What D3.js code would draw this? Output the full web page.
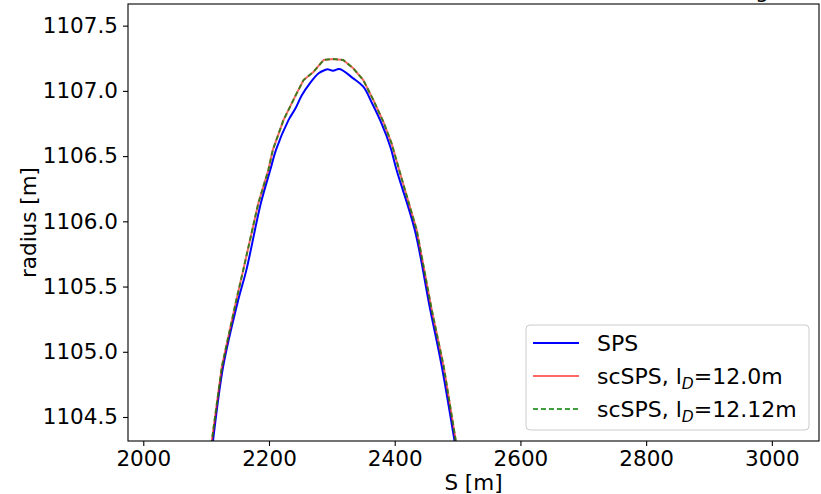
<!DOCTYPE html>
<html>
<head>
<meta charset="utf-8">
<script src="https://cdn.jsdelivr.net/npm/d3@7"></script>
<style>
  body { margin: 0; background: #fff; }
  #graph { width: 821px; height: 494px; }
  text { font-family: "DejaVu Sans", sans-serif; fill: #000; }
  .axis text { font-size: 21.5px; }
  .axis path, .axis line { stroke: #000; stroke-width: 1.1; }
</style>
</head>
<body>
<div id="graph"></div>
<script>
// S positions [m] and radius [m]
var sSPS = [2100, 2111, 2127, 2151, 2164, 2187, 2202, 2211, 2231, 2242, 2252, 2265, 2279,
  2289, 2293, 2302, 2312, 2334, 2350, 2364, 2379, 2393, 2403, 2432, 2456, 2475, 2495, 2511];
var radiusSPS = [1103.86, 1104.32, 1104.885, 1105.396, 1105.626, 1106.138, 1106.393, 1106.546,
  1106.776, 1106.865, 1106.965, 1107.058, 1107.135, 1107.160, 1107.166, 1107.154, 1107.168,
  1107.096, 1107.032, 1106.905, 1106.751, 1106.572, 1106.393, 1105.933, 1105.335, 1104.885,
  1104.322, 1103.86];

var sScSPS = [2097, 2109, 2125, 2148, 2159, 2183, 2199, 2206, 2223, 2244, 2255, 2271, 2287,
  2302, 2318, 2334, 2350, 2366, 2382, 2395, 2411, 2435, 2459, 2478, 2497, 2513];
var radiusSc120 = [1103.86, 1104.315, 1104.885, 1105.396, 1105.626, 1106.138, 1106.393,
  1106.546, 1106.776, 1106.981, 1107.083, 1107.147, 1107.237, 1107.244, 1107.237, 1107.173,
  1107.083, 1106.930, 1106.763, 1106.598, 1106.329, 1105.933, 1105.319, 1104.885, 1104.322,
  1103.86];
var radiusSc1212 = [1103.86, 1104.315, 1104.885, 1105.396, 1105.626, 1106.138, 1106.393,
  1106.546, 1106.776, 1106.981, 1107.083, 1107.147, 1107.237, 1107.244, 1107.237, 1107.173,
  1107.083, 1106.930, 1106.763, 1106.598, 1106.329, 1105.933, 1105.319, 1104.885, 1104.322,
  1103.86];

var xTicks = [2000, 2200, 2400, 2600, 2800, 3000];
var yTicks = [1104.5, 1105.0, 1105.5, 1106.0, 1106.5, 1107.0, 1107.5];
var legendNames = ["SPS", "scSPS, l", "scSPS, l"];
var legendSuffix = ["", "=12.0m", "=12.12m"];
var titleText = "g";

var width = 821, height = 494;
var margin = { top: 4, left: 128, bottom: 53, right: 2 };
var chartWidth = width - margin.left - margin.right;
var chartHeight = height - margin.top - margin.bottom;

var svg = d3.select("#graph").append("svg").attr("width", width).attr("height", height);
svg.append("rect").attr("width", width).attr("height", height).attr("fill", "#fff");

var axisLayer = svg.append("g").classed("axisLayer", true);
var chartLayer = svg.append("g").classed("chartLayer", true)
  .attr("transform", "translate(" + [margin.left, margin.top] + ")");

var xScale = d3.scaleLinear().domain([1975.7, 3075]).range([0, chartWidth]);
var yScale = d3.scaleLinear().domain([1104.316, 1107.666]).range([chartHeight, 0]);

var series = [
  { name: "SPS", s: sSPS, r: radiusSPS, color: "#0000ff", dash: null, opacity: 1, width: 2, curve: d3.curveCatmullRom },
  { name: "sc120", s: sScSPS, r: radiusSc120, color: "#ff0000", dash: null, opacity: 0.6, width: 2, curve: d3.curveLinear },
  { name: "sc1212", s: sScSPS, r: radiusSc1212, color: "#008000", dash: "5,3", opacity: 0.75, width: 2, curve: d3.curveLinear }
];

renderAxis();
renderChart();
renderLegend();

function renderAxis() {
  axisLayer.append("g")
    .attr("class", "axis x")
    .attr("transform", "translate(" + [margin.left, margin.top + chartHeight] + ")")
    .call(d3.axisBottom(xScale).tickValues(xTicks).tickFormat(d3.format("d")).tickSize(5).tickPadding(5))
    .call(function(g) { g.select(".domain").remove(); });

  axisLayer.append("g")
    .attr("class", "axis y")
    .attr("transform", "translate(" + [margin.left, margin.top] + ")")
    .call(d3.axisLeft(yScale).tickValues(yTicks).tickFormat(d3.format(".1f")).tickSize(5).tickPadding(5))
    .call(function(g) { g.select(".domain").remove(); });

  axisLayer.append("text")
    .attr("x", margin.left + chartWidth / 2)
    .attr("y", 490)
    .attr("text-anchor", "middle")
    .style("font-size", "21.5px")
    .text("S [m]");

  axisLayer.append("text")
    .attr("transform", "translate(" + [36, margin.top + chartHeight / 2] + ") rotate(-90)")
    .attr("text-anchor", "middle")
    .style("font-size", "21.5px")
    .text("radius [m]");

  axisLayer.append("text")
    .attr("x", 769)
    .attr("y", -2)
    .attr("text-anchor", "end")
    .style("font-size", "21.5px")
    .text(titleText);
}

function renderChart() {
  chartLayer.append("clipPath").attr("id", "clip")
    .append("rect").attr("width", chartWidth).attr("height", chartHeight);

  var lines = chartLayer.append("g").attr("clip-path", "url(#clip)");

  series.forEach(function(d) {
    var pts = d.s.map(function(s, i) { return [s, d.r[i]]; });
    var line = d3.line()
      .x(function(p) { return xScale(p[0]); })
      .y(function(p) { return yScale(p[1]); })
      .curve(d.curve);
    lines.append("path")
      .attr("d", line(pts))
      .attr("fill", "none")
      .attr("stroke", d.color)
      .attr("stroke-opacity", d.opacity)
      .attr("stroke-width", d.width)
      .attr("stroke-dasharray", d.dash);
  });

  chartLayer.append("rect")
    .attr("width", chartWidth)
    .attr("height", chartHeight)
    .attr("fill", "none")
    .attr("stroke", "#000")
    .attr("stroke-width", 1.1);
}

function renderLegend() {
  var lg = svg.append("g").attr("transform", "translate(" + [526, 325] + ")");
  lg.append("rect")
    .attr("width", 283).attr("height", 105).attr("rx", 4)
    .attr("fill", "#fff").attr("fill-opacity", 0.8)
    .attr("stroke", "#cccccc").attr("stroke-width", 1);

  series.forEach(function(d, i) {
    var y = 18 + i * 33;
    lg.append("line")
      .attr("x1", 7).attr("x2", 53).attr("y1", y).attr("y2", y)
      .attr("stroke", d.color)
      .attr("stroke-opacity", d.opacity)
      .attr("stroke-width", d.width)
      .attr("stroke-dasharray", d.dash);
    var t = lg.append("text")
      .attr("x", 71).attr("y", y + 8)
      .style("font-size", "22px");
    t.append("tspan").text(legendNames[i]);
    if (legendSuffix[i]) {
      t.append("tspan").attr("dy", 5).style("font-size", "15.5px").style("font-style", "italic").text("D");
      t.append("tspan").attr("dy", -5).text(legendSuffix[i]);
    }
  });
}
</script>
</body>
</html>
